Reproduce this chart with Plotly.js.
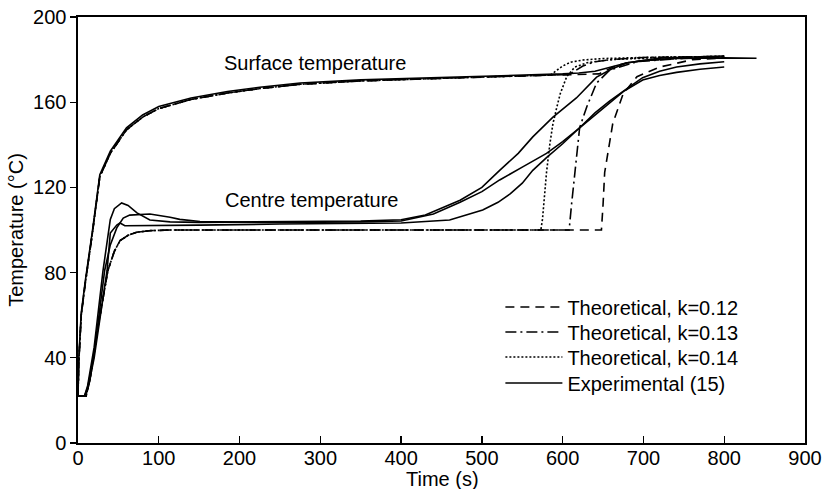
<!DOCTYPE html>
<html>
<head>
<meta charset="utf-8">
<script src="https://cdn.plot.ly/plotly-3.0.1.min.js"></script>
<style>
html,body{margin:0;padding:0;background:#fff;}
#chart{width:830px;height:489px;}
</style>
</head>
<body>
<div id="chart"></div>
<script>
// ---- Data (time in s, temperature in °C) ----
// Experimental surface temperature
const surfExpT = [0,1,4,9,18,27,40,60,80,100,140,185,225,275,350,400,500,600,620,640,660,680,700,740,800,840];
const surfExpV = [22,40,61,76,100,126,137,148,154,158,162,165,167,169,170.5,171,172,173.3,173.7,174.5,176.5,178.5,179.5,180.5,180.8,180.6];

// Theoretical surface temperature
const surfK12T = [0,1,4,9,18,27,40,60,80,100,140,185,225,275,350,400,500,645,655,665,680,700,740,800];
const surfK12V = [22,38,60,75,99,125,136,147,153,157,161.3,164.3,166.4,168.4,170,170.7,171.8,173.3,175,177,178.5,179.5,180.5,181];
const surfK13T = [0,1,4,9,18,27,40,60,80,100,140,185,225,275,350,400,500,608,617,625,640,660,700,800];
const surfK13V = [22,38,60,75,99,125,136,147,153,157,161.3,164.3,166.4,168.4,170,170.7,171.8,173,175,177,179,180,181,181.5];
const surfK14T = [0,1,4,9,18,27,40,60,80,100,140,185,225,275,350,400,500,585,593,600,610,625,650,700,800];
const surfK14V = [22,38,60,75,99,125,136,147,153,157,161.3,164.3,166.4,168.4,170,170.7,171.8,172.8,175,177,178.8,179.8,180.5,181,181.5];

// Theoretical centre temperature
const centK12T = [0,10,15,25,37,45,52,62,73,90,114,648,650,652,662,675,692,720,761,800];
const centK12V = [22,22,30,55,81,90,95,97.5,99,99.7,100,100,112,127,150,164,172,176.5,180,180.7];
const centK13T = [0,10,15,25,37,45,52,62,73,90,114,608,611,615,621,630,642,658,692,761,800];
const centK13V = [22,22,30,55,81,90,95,97.5,99,99.7,100,100,112,127,148,158,169,175,179,181,181.3];
const centK14T = [0,10,15,25,37,45,52,62,73,90,114,573,575,578,580,584,588,593,597,605,615,630,660,720,800];
const centK14V = [22,22,30,55,81,90,95,97.5,99,99.7,100,100,105,118,127,140,150,158,164,172,176.5,178.5,180,181,181.5];

// Experimental centre temperature (three runs)
const centExpAT = [0,8,12,20,31,40,45,54,62,73,89,114,150,250,350,400,430,473,500,522,545,563,588,617,642,660,679,720,800];
const centExpAV = [22,22,27,45,81,105,110,112.7,111.5,108,104.7,103.8,103.6,103.8,104.2,104.8,107,114,120,128,136,143.7,153,162,171.8,175.5,178.4,180.7,181.7];
const centExpBT = [0,8,12,20,33,40,48,56,64,89,114,126,151,250,350,400,440,473,500,522,550,580,600,621,640,658,680,699,720,741,770,800];
const centExpBV = [22,22,26,42,81,93,101,105.6,107,107.5,106,105,104,103.5,103.8,104.2,107.5,113,118,123.5,129.5,136,141.5,148,155,160.5,166.5,171.5,174.5,176.5,178,179];
const centExpCT = [0,8,12,20,36,40,48,52,58,93,150,250,350,400,460,501,520,535,550,563,580,600,621,646,675,699,720,741,770,800];
const centExpCV = [22,22,25,40,81,98.6,102.3,103.3,102,102,102.3,102.8,103,103.3,104.7,109.4,113,117,122,128,134,140.5,148,156,165,170.4,172.5,174,175.5,176.5];

// Labels
const legendNames = ["Theoretical, k=0.12","Theoretical, k=0.13","Theoretical, k=0.14","Experimental (15)"];
const xTitle = "Time (s)";
const yTitle = "Temperature (°C)";
const labelSurface = "Surface temperature";
const labelCentre = "Centre temperature";

// ---- Styles ----
const FONT = "Liberation Sans, Arial, Helvetica, sans-serif";
const FS = 20;
const dashes = {k12:"9px,6px", k13:"11px,4px,2px,4px", k14:"2px,2px", exp:"solid"};
const W = 1.6;
const legendIds = ["legend","legend2","legend3","legend4"];

function tr(x, y, dash, idx, show){
  return {x:x, y:y, type:"scatter", mode:"lines", name:legendNames[idx], showlegend:show,
          legend:legendIds[idx],
          line:{color:"#000", width:W, dash:dash}, hoverinfo:"skip"};
}

const data = [
  tr(surfK12T, surfK12V, dashes.k12, 0, true),
  tr(centK12T, centK12V, dashes.k12, 0, false),
  tr(surfK13T, surfK13V, dashes.k13, 1, true),
  tr(centK13T, centK13V, dashes.k13, 1, false),
  tr(surfK14T, surfK14V, dashes.k14, 2, true),
  tr(centK14T, centK14V, dashes.k14, 2, false),
  tr(surfExpT, surfExpV, dashes.exp, 3, true),
  tr(centExpAT, centExpAV, dashes.exp, 3, false),
  tr(centExpBT, centExpBV, dashes.exp, 3, false),
  tr(centExpCT, centExpCV, dashes.exp, 3, false)
];

function leg(yc){
  return {x:0.581, y:yc, xanchor:"left", yanchor:"middle",
          bgcolor:"rgba(0,0,0,0)", borderwidth:0, itemwidth:57,
          font:{family:FONT, size:FS, color:"#000"}};
}

const layout = {
  width:830, height:489,
  margin:{l:78, r:25, t:17, b:46},
  paper_bgcolor:"#fff", plot_bgcolor:"#fff",
  font:{family:FONT, size:FS, color:"#000"},
  showlegend:true,
  legend:leg(0.3192), legend2:leg(0.2606), legend3:leg(0.2019), legend4:leg(0.1408),
  xaxis:{range:[0,900], dtick:100, tick0:0, showgrid:false, zeroline:false,
         showline:true, linecolor:"#000", linewidth:1.6, mirror:true,
         ticks:"inside", ticklen:7, tickwidth:1.4, tickcolor:"#000",
         ticklabelstandoff:-4,
         tickfont:{family:FONT, size:FS, color:"#000"}},
  yaxis:{range:[0,200], dtick:40, tick0:0, showgrid:false, zeroline:false,
         showline:true, linecolor:"#000", linewidth:1.6, mirror:true,
         ticks:"outside", ticklen:6, tickwidth:1.4, tickcolor:"#000",
         tickfont:{family:FONT, size:FS, color:"#000"},
         title:{text:yTitle, font:{family:FONT, size:FS, color:"#000"}, standoff:4}},
  annotations:[
    {x:0.502, y:-0.0845, xref:"paper", yref:"paper", text:xTitle, showarrow:false,
     xanchor:"center", yanchor:"middle", font:{family:FONT, size:FS, color:"#000"}},
    {x:178, y:178.4, xref:"x", yref:"y", text:labelSurface, showarrow:false,
     xanchor:"left", yanchor:"middle", font:{family:FONT, size:FS, color:"#000"}},
    {x:179, y:114, xref:"x", yref:"y", text:labelCentre, showarrow:false,
     xanchor:"left", yanchor:"middle", font:{family:FONT, size:FS, color:"#000"}}
  ]
};

Plotly.newPlot("chart", data, layout, {staticPlot:true, displayModeBar:false});
</script>
</body>
</html>
